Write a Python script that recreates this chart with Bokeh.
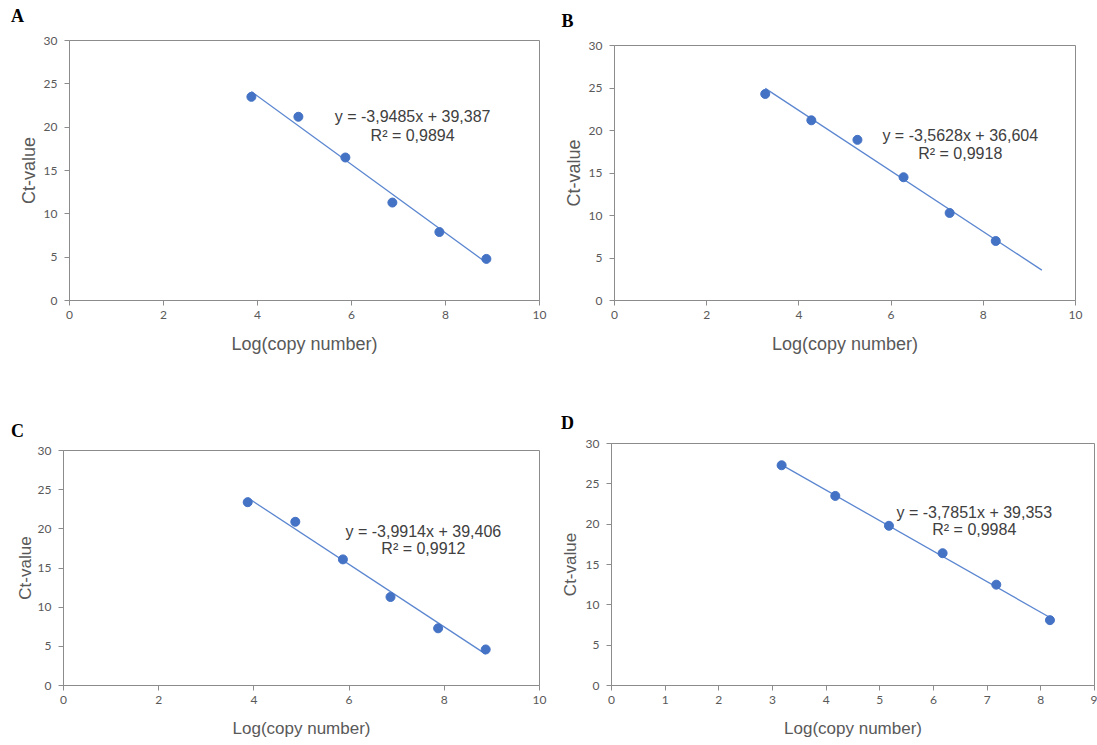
from bokeh.plotting import figure
from bokeh.models import Range1d, FixedTicker, Label
from bokeh.layouts import column, row
from bokeh.core.properties import value
from bokeh.embed import file_html
from bokeh.resources import INLINE

# ---- data ----
panel_labels = ["A", "B", "C", "D"]

A_logcopy = [3.87, 4.87, 5.87, 6.87, 7.87, 8.87]
A_ct = [23.5, 21.2, 16.5, 11.3, 7.9, 4.8]
B_logcopy = [3.27, 4.27, 5.27, 6.27, 7.27, 8.27]
B_ct = [24.3, 21.2, 18.9, 14.5, 10.3, 7.0]
C_logcopy = [3.87, 4.87, 5.87, 6.87, 7.87, 8.87]
C_ct = [23.4, 20.9, 16.1, 11.3, 7.3, 4.6]
D_logcopy = [3.17, 4.17, 5.17, 6.17, 7.17, 8.17]
D_ct = [27.3, 23.5, 19.8, 16.4, 12.5, 8.1]

slopes = [-3.9485, -3.5628, -3.9914, -3.7851]
intercepts = [39.387, 36.604, 39.406, 39.353]
r_squared = [0.9894, 0.9918, 0.9912, 0.9984]
trend_start = [3.87, 3.27, 3.87, 3.17]
trend_end = [8.87, 9.27, 8.87, 8.17]

x_max = [10, 10, 10, 9]
x_ticks_ABC = [0, 2, 4, 6, 8, 10]
x_ticks_D = [0, 1, 2, 3, 4, 5, 6, 7, 8, 9]
y_ticks = [0, 5, 10, 15, 20, 25, 30]

# equation label anchor (data coords)
eq_x = [7.3, 7.5, 7.56, 6.76]
eq_y = [21.2, 19.4, 19.7, 21.5]
r2_y = [19.0, 17.3, 17.5, 19.4]

x_title = "Log(copy number)"
y_title = "Ct-value"

BLUE = "#4472C4"
LINE = "#5B86D0"
AXIS = "#8C8C8C"
TXT = "#595959"


def fmt(v, nd):
    return f"{v:.{nd}f}".replace(".", ",")


def make_panel(i, xs, ys, width, height, borders, title_fs, ylab_so, xlab_so,
               lab_dx, lab_dy):
    left, right, top, bottom = borders
    p = figure(width=width, height=height,
               x_range=Range1d(0, x_max[i]), y_range=Range1d(0, 30),
               output_backend="svg", toolbar_location=None,
               min_border_left=left, min_border_right=right,
               min_border_top=top, min_border_bottom=bottom)
    p.background_fill_color = "white"
    p.border_fill_color = "white"
    p.outline_line_color = AXIS
    p.outline_line_width = 1
    p.xgrid.visible = False
    p.ygrid.visible = False

    p.xaxis.ticker = FixedTicker(ticks=x_ticks_D if x_max[i] == 9 else x_ticks_ABC)
    p.yaxis.ticker = FixedTicker(ticks=y_ticks)
    for ax in (p.xaxis[0], p.yaxis[0]):
        ax.axis_line_color = AXIS
        ax.major_tick_line_color = AXIS
        ax.major_tick_out = 5
        ax.major_tick_in = 0
        ax.minor_tick_line_color = None
        ax.major_label_text_font = "Lato"
        ax.major_label_text_font_size = "12px"
        ax.major_label_text_color = TXT
        ax.axis_label_text_font = "Liberation Sans"
        ax.axis_label_text_font_style = "normal"
        ax.axis_label_text_font_size = title_fs
        ax.axis_label_text_color = TXT
    p.xaxis.axis_label = x_title
    p.yaxis.axis_label = y_title
    p.xaxis.major_label_standoff = 5
    p.yaxis.major_label_standoff = 7
    p.yaxis.axis_label_standoff = ylab_so
    p.xaxis.axis_label_standoff = xlab_so

    tx = [trend_start[i], trend_end[i]]
    ty = [slopes[i] * x + intercepts[i] for x in tx]
    p.line(tx, ty, line_color=LINE, line_width=1.3)
    p.scatter(xs, ys, size=9, marker="circle", fill_color=BLUE, line_color=BLUE)

    eq = f"y = {fmt(slopes[i], 4)}x + {fmt(intercepts[i], 3)}"
    r2 = f"R² = {fmt(r_squared[i], 4)}"
    p.text(x=[eq_x[i], eq_x[i]], y=[eq_y[i], r2_y[i]], text=[eq, r2],
           text_font=value("Liberation Sans"), text_font_size=value("16px"),
           text_color="#404040", text_align="center", text_baseline="middle")

    # panel letter, placed in the (unclipped) area above the frame
    p.add_layout(Label(x=lab_dx, y=lab_dy, x_units="screen", y_units="screen",
                       text=panel_labels[i], text_font="Liberation Serif",
                       text_font_style="bold", text_font_size="18px",
                       text_color="black", text_align="center",
                       text_baseline="middle"), "above")
    return p


pA = make_panel(0, A_logcopy, A_ct, 556, 385, (69, 17, 40, 85), "18px", 2, 12, -52, 25)
pB = make_panel(1, B_logcopy, B_ct, 541, 385, (58, 22, 45, 85), "18px", 2, 12, -47, 25)
pC = make_panel(2, C_logcopy, C_ct, 556, 355, (63, 17, 65, 52), "17px", 0, 12, -46, 20)
pD = make_panel(3, D_logcopy, D_ct, 541, 355, (55, 3, 58, 51), "17px", 3, 12, -44, 21)

layout = column(row(column(pA), column(pB)), row(column(pC), column(pD)))
open("out.html", "w").write(file_html(layout, INLINE))
